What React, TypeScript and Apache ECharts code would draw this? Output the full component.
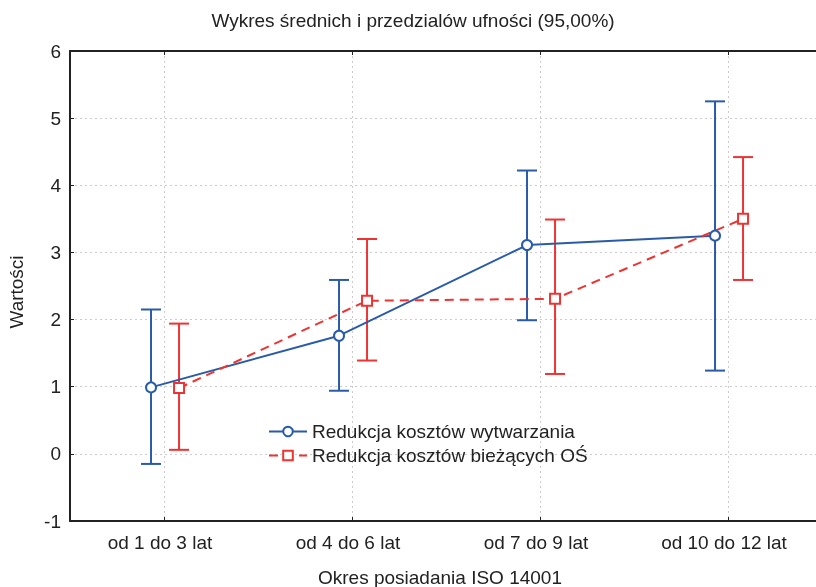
import React, { useEffect, useRef } from "react";
import * as echarts from "echarts";

const categories = ["od 1 do 3 lat", "od 4 do 6 lat", "od 7 do 9 lat", "od 10 do 12 lat"];
const seriesNames = ["Redukcja kosztów wytwarzania", "Redukcja kosztów bieżących OŚ"];
const blueMean = [0.99, 1.76, 3.11, 3.25];
const blueLow = [-0.15, 0.94, 1.99, 1.24];
const blueHigh = [2.15, 2.59, 4.22, 5.25];
const redMean = [0.98, 2.28, 2.31, 3.5];
const redLow = [0.06, 1.39, 1.19, 2.59];
const redHigh = [1.94, 3.2, 3.49, 4.42];
const yTicks = [-1, 0, 1, 2, 3, 4, 5, 6];

const BLUE = "#2a5ba8";
const RED = "#ee3333";
const INK = "#222222";
const FONT = "'Liberation Sans', Arial, sans-serif";
const FS = 19;
const BLUE_OFF = -0.069;
const RED_OFF = 0.08;
// the plot continues past the right edge of the page: 746 visible px of a 188 px-per-category scale
const X_MIN = -0.5;
const X_MAX = -0.5 + 746 / 188;

function errorBarItem(color: string) {
  return (params: any, api: any) => {
    const x = api.value(0);
    const lo = api.coord([x, api.value(1)]);
    const hi = api.coord([x, api.value(2)]);
    const cap = 10;
    const style = { stroke: color, lineWidth: 2 };
    return {
      type: "group",
      children: [
        { type: "line", shape: { x1: lo[0], y1: lo[1], x2: hi[0], y2: hi[1] }, style },
        { type: "line", shape: { x1: lo[0] - cap, y1: lo[1], x2: lo[0] + cap, y2: lo[1] }, style },
        { type: "line", shape: { x1: hi[0] - cap, y1: hi[1], x2: hi[0] + cap, y2: hi[1] }, style },
      ],
    };
  };
}

export default function App() {
  const ref = useRef<HTMLDivElement>(null);
  useEffect(() => {
    if (!ref.current) return;
    const chart = echarts.init(ref.current, undefined, { renderer: "svg" });
    const catIdx = categories.map((_, i) => i);
    const gridLine = { show: true, lineStyle: { color: "#cccccc", width: 1, type: [2, 3] as any } };
    const axisLine = { show: true, onZero: false, lineStyle: { color: INK, width: 2 } };
    chart.setOption({
      animation: false,
      textStyle: { fontFamily: FONT },
      grid: { left: 70, top: 51, right: 0, height: 470 },
      legend: {
        orient: "vertical",
        left: 268,
        top: 422,
        padding: 0,
        itemWidth: 38,
        itemHeight: 12,
        itemGap: 5,
        data: seriesNames,
        textStyle: { fontSize: FS, color: INK, fontFamily: FONT, lineHeight: 18 },
      },
      graphic: [
        {
          type: "text",
          x: 413,
          y: 20,
          style: {
            text: "Wykres średnich i przedzialów ufności (95,00%)",
            font: `${FS}px ${FONT}`,
            fill: INK,
            align: "center",
            verticalAlign: "middle",
          },
        },
        {
          type: "text",
          x: 440,
          y: 577,
          style: {
            text: "Okres posiadania ISO 14001",
            font: `${FS}px ${FONT}`,
            fill: INK,
            align: "center",
            verticalAlign: "middle",
          },
        },
        {
          type: "text",
          x: 16,
          y: 292,
          rotation: Math.PI / 2,
          style: {
            text: "Wartości",
            font: `${FS}px ${FONT}`,
            fill: INK,
            align: "center",
            verticalAlign: "middle",
          },
        },
      ],
      xAxis: [
        {
          type: "value",
          position: "bottom",
          min: X_MIN,
          max: X_MAX,
          axisLine,
          axisTick: { show: true, inside: true, length: 4, customValues: catIdx, lineStyle: { color: INK } },
          axisLabel: {
            customValues: catIdx,
            formatter: (v: number) => categories[Math.round(v)] ?? "",
            fontSize: FS,
            color: INK,
            margin: 12,
            padding: [0, 8, 0, 0],
            fontFamily: FONT,
          },
          splitLine: gridLine,
        },
        {
          type: "value",
          position: "top",
          min: X_MIN,
          max: X_MAX,
          axisLine,
          axisTick: { show: true, inside: true, length: 4, customValues: catIdx, lineStyle: { color: INK } },
          axisLabel: { show: false },
          splitLine: { show: false },
        },
      ],
      yAxis: {
        type: "value",
        min: -1,
        max: 6,
        interval: 1,
        axisLine,
        axisTick: { show: true, inside: true, length: 4, lineStyle: { color: INK } },
        axisLabel: {
          fontSize: FS,
          color: INK,
          margin: 9,
          fontFamily: FONT,
          formatter: (v: number) => (yTicks.includes(v) ? String(v) : ""),
        },
        splitLine: gridLine,
      },
      series: [
        {
          name: "blueErr",
          type: "custom",
          z: 1,
          renderItem: errorBarItem(BLUE),
          encode: { x: 0, y: [1, 2] },
          data: categories.map((_, i) => [i + BLUE_OFF, blueLow[i], blueHigh[i]]),
        },
        {
          name: "redErr",
          type: "custom",
          z: 1,
          renderItem: errorBarItem(RED),
          encode: { x: 0, y: [1, 2] },
          data: categories.map((_, i) => [i + RED_OFF, redLow[i], redHigh[i]]),
        },
        {
          name: seriesNames[0],
          type: "line",
          z: 3,
          symbol: "emptyCircle",
          symbolSize: 10,
          color: BLUE,
          itemStyle: { color: BLUE, borderWidth: 2 },
          lineStyle: { color: BLUE, width: 2 },
          data: categories.map((_, i) => [i + BLUE_OFF, blueMean[i]]),
        },
        {
          name: seriesNames[1],
          type: "line",
          z: 3,
          symbol: "emptyRect",
          symbolSize: 10,
          color: RED,
          itemStyle: { color: RED, borderWidth: 2 },
          lineStyle: { color: RED, width: 2, type: [9, 6] },
          data: categories.map((_, i) => [i + RED_OFF, redMean[i]]),
        },
      ],
    });
    return () => chart.dispose();
  }, []);
  return <div ref={ref} style={{ position: "fixed", left: 0, top: 0, width: 816, height: 587 }} />;
}
